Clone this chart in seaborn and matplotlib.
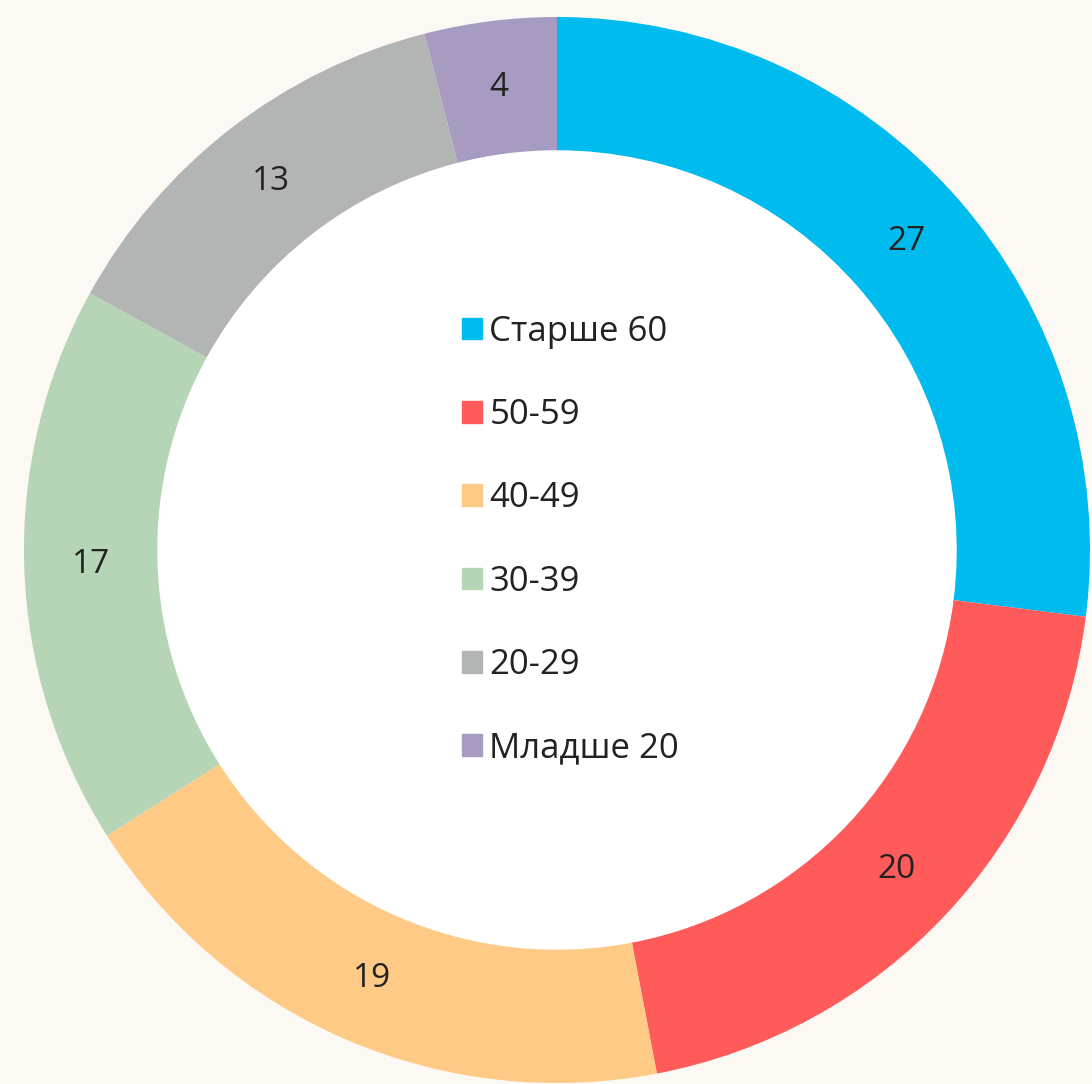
import matplotlib
matplotlib.use('Agg')
import matplotlib.pyplot as plt
import matplotlib.patches as mpatches
import seaborn as sns

# age groups and shares (%)
groups = ['Старше 60', '50-59', '40-49', '30-39', '20-29', 'Младше 20']
shares = [27, 20, 19, 17, 13, 4]
colors = ['#00BBEE', '#FF5B5B', '#FFCA85', '#B6D4B6', '#B3B5B5', '#A89BC1']

BG = '#FCF8F3'
TEXT = '#222222'

sns.set_theme(style='white')
plt.rcParams['font.family'] = ['Open Sans', 'DejaVu Sans']

W, H = 1092, 1084
cx, cy, R = 557, 550, 533

fig = plt.figure(figsize=(W / 100, H / 100), dpi=100, facecolor=BG)
ax = fig.add_axes([0, 0, 1, 1])
ax.set_facecolor(BG)

total = sum(shares)
wedges, _, autotexts = ax.pie(
    shares, colors=colors, startangle=90, counterclock=False, radius=1,
    wedgeprops=dict(width=0.25, linewidth=0),
    autopct=lambda p: f'{p * total / 100:.0f}', pctdistance=0.875,
    textprops=dict(color=TEXT, fontsize=24),
)

# white center
ax.add_patch(mpatches.Circle((0, 0), 0.75, color='white', zorder=0))

ax.set_xlim(-cx / R, (W - cx) / R)
ax.set_ylim(-(H - cy) / R, cy / R)
ax.set_aspect('auto')
ax.axis('off')

handles = [mpatches.Patch(color=c, label=g) for c, g in zip(colors, groups)]
leg = fig.legend(
    handles=handles, loc='center left',
    bbox_to_anchor=(431 / W, (H - 540) / H), frameon=False,
    fontsize=25, handlelength=0.58, handleheight=0.58, handletextpad=0.2,
    labelspacing=1.42, labelcolor=TEXT,
)

fig.savefig('out.png', dpi=100, facecolor=BG)
